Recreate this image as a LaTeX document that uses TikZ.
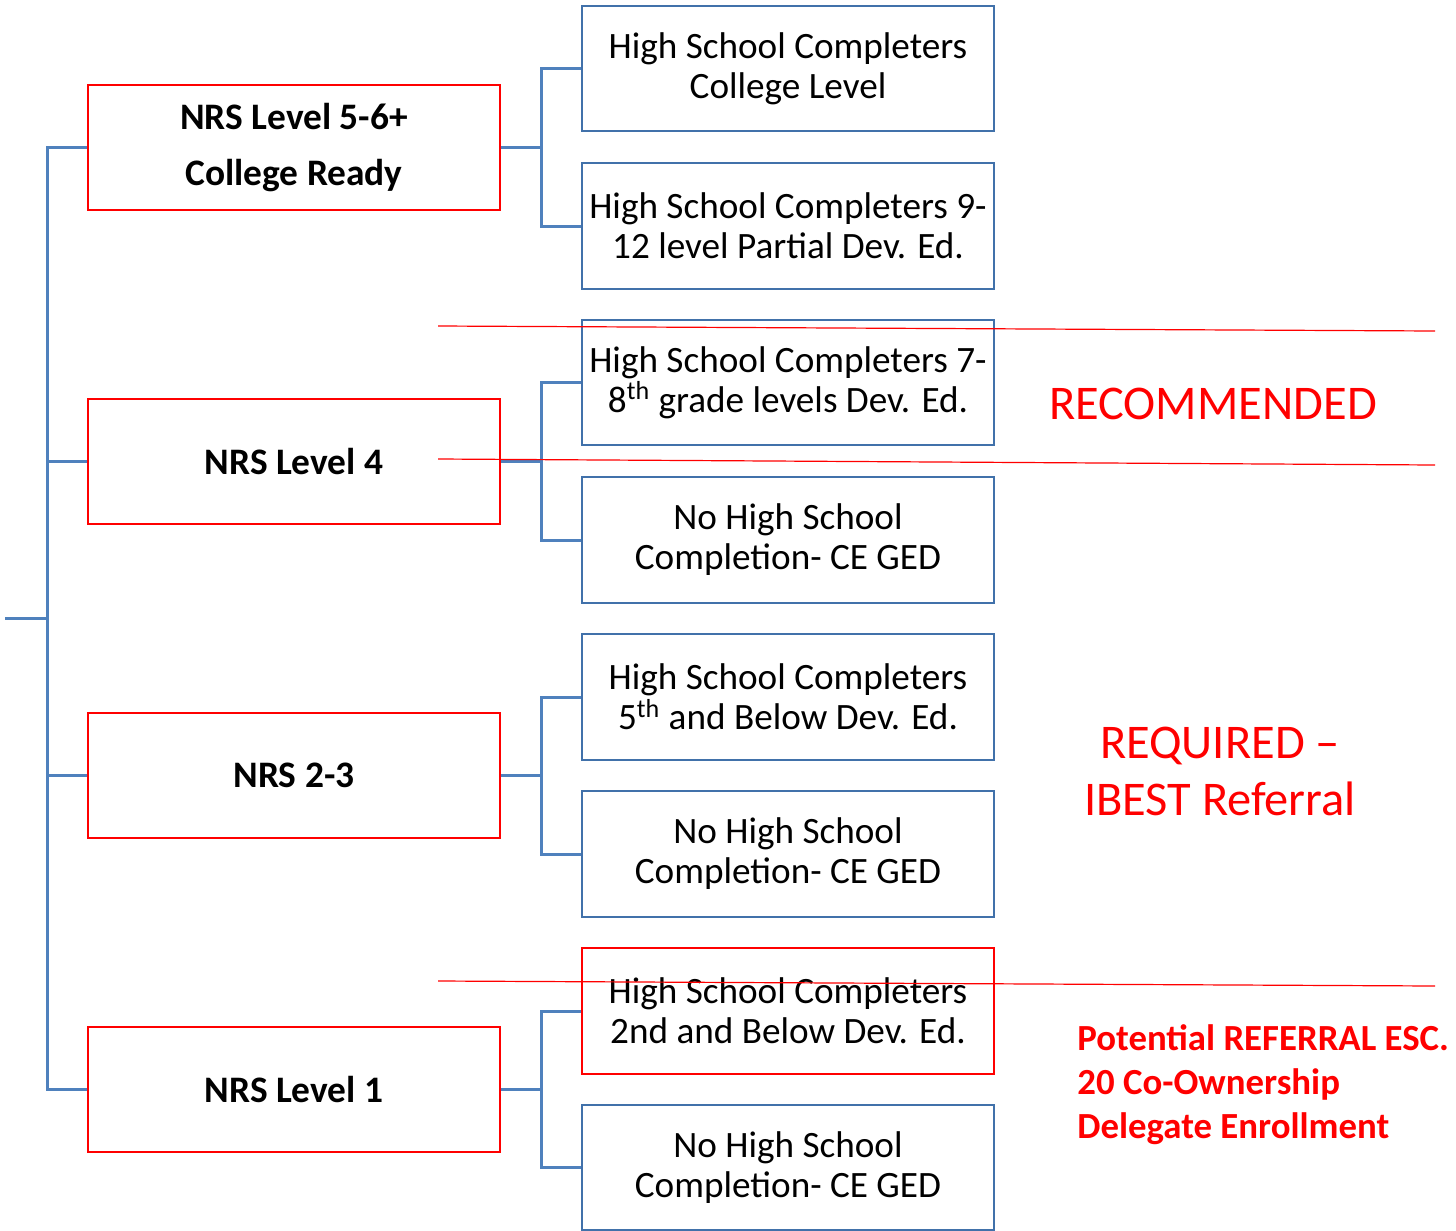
\documentclass[tikz,border=0pt]{standalone}
\usepackage{fontspec}
\setmainfont{Carlito}
\begin{document}
\begin{tikzpicture}[x=0.5pt,y=-0.5pt,
  lvlbox/.style={draw=red, line width=1pt, minimum width=206pt, minimum height=62.5pt,
    inner sep=0pt, align=center, font=\fontsize{18.7}{28}\selectfont\bfseries},
  subbox/.style={draw=boxblue, line width=1pt, minimum width=206pt, minimum height=62.8pt,
    inner sep=0pt, align=center, font=\fontsize{18.6}{20}\selectfont},
  link/.style={draw=linkblue, line width=1.5pt},
  divider/.style={draw=red, line width=0.6pt},
  note/.style={text=red, align=center, font=\fontsize{24.2}{28.5}\selectfont},
]
\definecolor{boxblue}{RGB}{65,113,170}
\definecolor{linkblue}{RGB}{79,129,189}
\useasboundingbox (0,0) rectangle (1456,1231);

% level boxes
\node[lvlbox] (L1) at (294,147.5) {NRS Level 5-6+\\College Ready};
\node[lvlbox] (L2) at (294,461.5) {NRS Level 4};
\node[lvlbox] (L3) at (294,775.5) {NRS 2-3};
\node[lvlbox] (L4) at (294,1089.5) {NRS Level 1};

% sub-boxes
\node[subbox] (R1) at (788,68.5) {High School Completers\\College Level};
\node[subbox] (R2) at (788,226) {High School Completers 9-\\12 level Partial Dev. Ed.};
\node[subbox] (R3) at (788,382.5) {High School Completers 7-\\8\textsuperscript{th} grade levels Dev. Ed.};
\node[subbox] (R4) at (788,540) {No High School\\Completion- CE GED};
\node[subbox] (R5) at (788,697) {High School Completers\\5\textsuperscript{th} and Below Dev. Ed.};
\node[subbox] (R6) at (788,854) {No High School\\Completion- CE GED};
\node[subbox, draw=red] (R7) at (788,1011) {High School Completers\\2nd and Below Dev. Ed.};
\node[subbox] (R8) at (788,1167.5) {No High School\\Completion- CE GED};

% trunk and brackets
\coordinate (root) at (5,618);
\coordinate (tk) at (47,618);
\coordinate (b1) at (541,147.5);
\coordinate (b2) at (541,461.5);
\coordinate (b3) at (541,775.5);
\coordinate (b4) at (541,1089.5);

\draw[link] (root) -- (tk);
\draw[link] (L1.west) -| (tk) |- (L4.west);
\draw[link] (L2.west) -| (tk);
\draw[link] (L3.west) -| (tk);

\draw[link] (L1.east) -- (b1);
\draw[link] (R1.west) -| (b1) |- (R2.west);
\draw[link] (L2.east) -- (b2);
\draw[link] (R3.west) -| (b2) |- (R4.west);
\draw[link] (L3.east) -- (b3);
\draw[link] (R5.west) -| (b3) |- (R6.west);
\draw[link] (L4.east) -- (b4);
\draw[link] (R7.west) -| (b4) |- (R8.west);

% red divider lines
\coordinate (d1a) at (438,326);
\coordinate (d1b) at (1435,331);
\coordinate (d2a) at (438,459);
\coordinate (d2b) at (1435,465);
\coordinate (d3a) at (438,981);
\coordinate (d3b) at (1435,986);
\draw[divider] (d1a) -- (d1b);
\draw[divider] (d2a) -- (d2b);
\draw[divider] (d3a) -- (d3b);

% side notes
\node[note] (rec) at (1213,404) {RECOMMENDED};
\node[note] (req) at (1220,771) {REQUIRED --\\IBEST Referral};
\node[note, anchor=west, align=left, inner xsep=0pt, font=\fontsize{18.4}{22}\selectfont\bfseries]
  (pot) at (1077,1085) {Potential REFERRAL ESC.\\20 Co-Ownership\\Delegate Enrollment};
\end{tikzpicture}
\end{document}
